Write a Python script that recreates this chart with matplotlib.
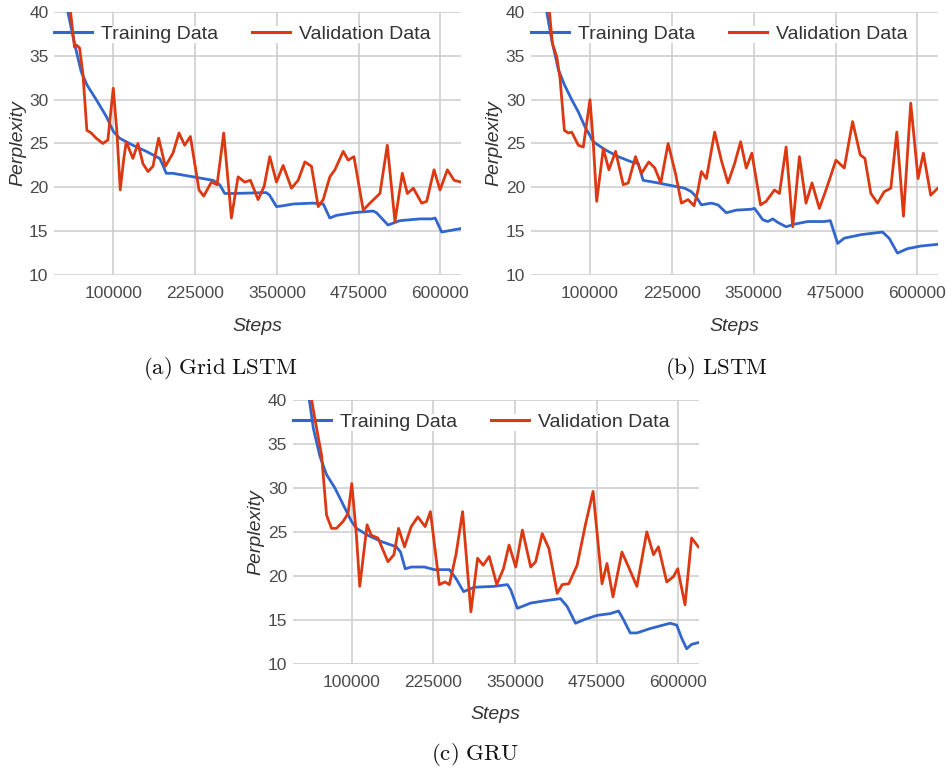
import matplotlib.pyplot as plt

plt.rcParams['font.family'] = ['Liberation Sans', 'DejaVu Sans']
plt.rcParams['mathtext.fontset'] = 'cm'

# (a) Grid LSTM
grid_train_steps = [30600, 40800, 51000, 59700, 74000, 89300, 100000, 109700, 130000, 150500,
                    171000, 176000, 181000, 191000, 222000, 252500, 262700, 270400, 283000, 334000,
                    339000, 349500, 359700, 375000, 405600, 421000, 431000, 441000, 466800, 497000,
                    502500, 520000, 538000, 568900, 586700, 592000, 602000, 631600]
grid_train_ppl = [40.0, 36.4, 33.2, 31.7, 30.0, 28.1, 26.4, 25.6, 24.8, 24.1,
                  23.3, 22.5, 21.6, 21.6, 21.2, 20.8, 20.3, 19.3, 19.3, 19.4,
                  19.1, 17.8, 17.9, 18.1, 18.2, 18.1, 16.5, 16.8, 17.1, 17.3,
                  17.1, 15.7, 16.2, 16.4, 16.4, 16.5, 14.9, 15.3]
grid_val_steps = [34700, 40800, 44400, 48500, 53600, 59700, 66300, 74000, 84200, 91800,
                  100000, 105400, 110700, 115800, 119900, 130000, 137800, 145400, 153100, 160700,
                  169400, 179600, 191300, 200500, 209200, 217900, 231100, 238300, 250000, 258700,
                  268900, 280600, 290800, 301000, 309700, 321400, 330600, 339300, 349500, 359700,
                  372400, 382600, 392900, 403000, 413300, 420900, 431100, 438800, 451500, 459100,
                  467900, 482100, 492400, 507600, 518900, 530600, 541800, 549500, 558700, 571400,
                  579100, 590300, 599500, 610700, 621000, 631600]
grid_val_ppl = [40.0, 36.0, 36.2, 35.9, 33.0, 26.5, 26.2, 25.6, 25.0, 25.4,
                31.3, 26.5, 19.7, 23.1, 25.2, 23.3, 25.0, 22.7, 21.8, 22.4,
                25.6, 22.4, 23.9, 26.2, 24.8, 25.8, 19.7, 19.0, 20.6, 20.3,
                26.2, 16.5, 21.2, 20.6, 20.8, 18.6, 20.1, 23.5, 20.6, 22.5,
                19.9, 20.8, 22.9, 22.4, 17.8, 18.6, 21.2, 22.0, 24.1, 23.1,
                23.5, 17.4, 18.2, 19.3, 24.8, 16.1, 21.6, 19.3, 19.9, 18.2,
                18.4, 22.0, 19.7, 22.0, 20.8, 20.6]

# (b) LSTM
lstm_train_steps = [34000, 41600, 51800, 60900, 72100, 82200, 92400, 105100, 122800, 143100,
                    163400, 173600, 181200, 204100, 224400, 244700, 254800, 262400, 270000, 285300,
                    295400, 308100, 323300, 346200, 351300, 363900, 371600, 379200, 386800, 399500,
                    412200, 432500, 457800, 467000, 478200, 488300, 513700, 546700, 556800, 569500,
                    584700, 605000, 631000]
lstm_train_ppl = [40.0, 36.8, 33.4, 31.7, 30.0, 28.6, 26.9, 25.2, 24.3, 23.5,
                  22.9, 22.7, 20.8, 20.5, 20.2, 19.9, 19.5, 18.9, 18.0, 18.2,
                  18.0, 17.1, 17.4, 17.5, 17.6, 16.3, 16.1, 16.4, 16.0, 15.5,
                  15.8, 16.1, 16.1, 16.2, 13.6, 14.2, 14.6, 14.9, 14.2, 12.5,
                  13.0, 13.3, 13.5]
lstm_val_steps = [38100, 42600, 49200, 54300, 60900, 67000, 72100, 82200, 89800, 100000,
                  105100, 110200, 120300, 128900, 139100, 150800, 158400, 169500, 178700, 189800,
                  199000, 208100, 219300, 230500, 239600, 249700, 258900, 265000, 270000, 277700,
                  290400, 300500, 310700, 320800, 330000, 338600, 347200, 360400, 369000, 381700,
                  389300, 399500, 409600, 419800, 429900, 439100, 450200, 460400, 475600, 488300,
                  501000, 512700, 519800, 528900, 539100, 549200, 559400, 568500, 578700, 589800,
                  601000, 609100, 620300, 631000]
lstm_val_ppl = [40.0, 36.4, 34.9, 32.4, 26.5, 26.2, 26.3, 24.8, 24.6, 30.0,
                25.0, 18.4, 24.4, 22.0, 24.1, 20.3, 20.5, 23.5, 21.6, 22.9,
                22.2, 20.5, 25.0, 21.6, 18.2, 18.6, 17.9, 19.7, 21.8, 21.0,
                26.3, 23.1, 20.5, 22.7, 25.2, 22.2, 23.9, 18.0, 18.4, 19.7,
                19.3, 24.6, 15.5, 23.5, 18.2, 20.5, 17.6, 19.7, 23.1, 22.2,
                27.5, 23.7, 23.3, 19.3, 18.2, 19.5, 19.9, 26.3, 16.7, 29.6,
                21.0, 23.9, 19.1, 19.9]

# (c) GRU
gru_train_steps = [35000, 41100, 51200, 61400, 74100, 86800, 99500, 107100, 124900, 145200,
                   168100, 174700, 181800, 191000, 211300, 226500, 249400, 259500, 271200, 287500,
                   318000, 338300, 343400, 353500, 373900, 399300, 419600, 429800, 442500, 455200,
                   475500, 495800, 508500, 516100, 526300, 536500, 556800, 587300, 597400, 605100,
                   612700, 620300, 630500]
gru_train_ppl = [40.0, 36.8, 33.6, 31.5, 30.0, 28.1, 26.2, 25.4, 24.6, 23.9,
                 23.3, 22.7, 20.8, 21.0, 21.0, 20.7, 20.7, 19.7, 18.2, 18.7,
                 18.8, 19.0, 18.4, 16.3, 16.9, 17.2, 17.4, 16.5, 14.6, 15.0,
                 15.5, 15.7, 16.0, 15.0, 13.5, 13.5, 14.0, 14.6, 14.4, 12.9,
                 11.7, 12.2, 12.4]
gru_val_steps = [38500, 46100, 53800, 61400, 69000, 76600, 86800, 94400, 100000, 107100,
                 112200, 123400, 130000, 140100, 155400, 164500, 171600, 180800, 191000, 201100,
                 212300, 220400, 234100, 242800, 249400, 259500, 269700, 282400, 292600, 301200,
                 310400, 322000, 332200, 340800, 351000, 361200, 373900, 381500, 391600, 401800,
                 414500, 422100, 432300, 445000, 457700, 469400, 483100, 490700, 499900, 513600,
                 523800, 536500, 551700, 561900, 569500, 582200, 592400, 599000, 610200, 620300,
                 630500]
gru_val_ppl = [40.0, 36.8, 33.7, 26.9, 25.4, 25.4, 26.2, 27.1, 30.5, 24.6,
               18.8, 25.8, 24.6, 24.3, 21.6, 22.4, 25.4, 23.3, 25.6, 26.7,
               25.6, 27.3, 19.0, 19.3, 19.0, 22.4, 27.3, 15.9, 22.0, 21.2,
               22.2, 19.0, 20.8, 23.5, 21.0, 25.2, 21.0, 21.6, 24.8, 23.1,
               18.0, 19.0, 19.1, 21.2, 25.8, 29.6, 19.1, 21.4, 17.6, 22.7,
               21.0, 18.8, 25.0, 22.4, 23.3, 19.3, 19.9, 20.8, 16.7, 24.3,
               23.3]

xticks = [100000, 225000, 350000, 475000, 600000]
yticks = [10, 15, 20, 25, 30, 35, 40]
blue = '#3366cc'
red = '#dc3912'


def panel(rect, tr_x, tr_y, va_x, va_y):
    ax = fig.add_axes(rect)
    ax.plot(tr_x, tr_y, color=blue, lw=2.0, solid_joinstyle='round', label='Training Data', zorder=3)
    ax.plot(va_x, va_y, color=red, lw=2.0, solid_joinstyle='round', label='Validation Data', zorder=3)
    ax.set_xlim(9500, 631500)
    ax.set_ylim(10, 40)
    ax.set_xticks(xticks)
    ax.set_xticklabels([str(t) for t in xticks])
    ax.set_yticks(yticks)
    ax.grid(True, color='#cccccc', lw=1.1)
    ax.set_axisbelow(True)
    for s in ax.spines.values():
        s.set_visible(False)
    ax.tick_params(length=0, labelsize=12.5, labelcolor='#4a4a4a')
    ax.tick_params(axis='x', pad=8)
    ax.tick_params(axis='y', pad=4)
    ax.set_xlabel('Steps', fontsize=14, style='italic', color='#333333', labelpad=12)
    ax.set_ylabel('Perplexity', fontsize=14, style='italic', color='#333333', labelpad=2)
    leg = ax.legend(loc='center left', bbox_to_anchor=(0.0, 0.915), ncol=2, fontsize=14,
                    handlelength=1.96, handletextpad=0.46, columnspacing=1.75,
                    borderpad=0.0, borderaxespad=0.0, frameon=True, fancybox=False)
    leg.get_frame().set_facecolor('white')
    leg.get_frame().set_edgecolor('none')
    leg.get_frame().set_alpha(1.0)
    for t in leg.get_texts():
        t.set_color('#333333')
    for h in leg.get_lines():
        h.set_linewidth(2.2)
    leg.set_zorder(2)
    return ax


fig = plt.figure(figsize=(9.53, 7.74), dpi=100)

panel([0.0567, 0.6447, 0.4270, 0.3398], grid_train_steps, grid_train_ppl, grid_val_steps, grid_val_ppl)
panel([0.5569, 0.6447, 0.4274, 0.3398], lstm_train_steps, lstm_train_ppl, lstm_val_steps, lstm_val_ppl)
panel([0.3071, 0.1425, 0.4263, 0.3407], gru_train_steps, gru_train_ppl, gru_val_steps, gru_val_ppl)

cap = dict(fontsize=16.5, ha='center', va='center', color='#111111')
fig.text(220 / 953, 1 - 368 / 774, r'$\mathrm{(a)\ Grid\ LSTM}$', **cap)
fig.text(716 / 953, 1 - 368 / 774, r'$\mathrm{(b)\ LSTM}$', **cap)
fig.text(475 / 953, 1 - 755 / 774, r'$\mathrm{(c)\ GRU}$', **cap)

fig.savefig('out.png', dpi=100)
